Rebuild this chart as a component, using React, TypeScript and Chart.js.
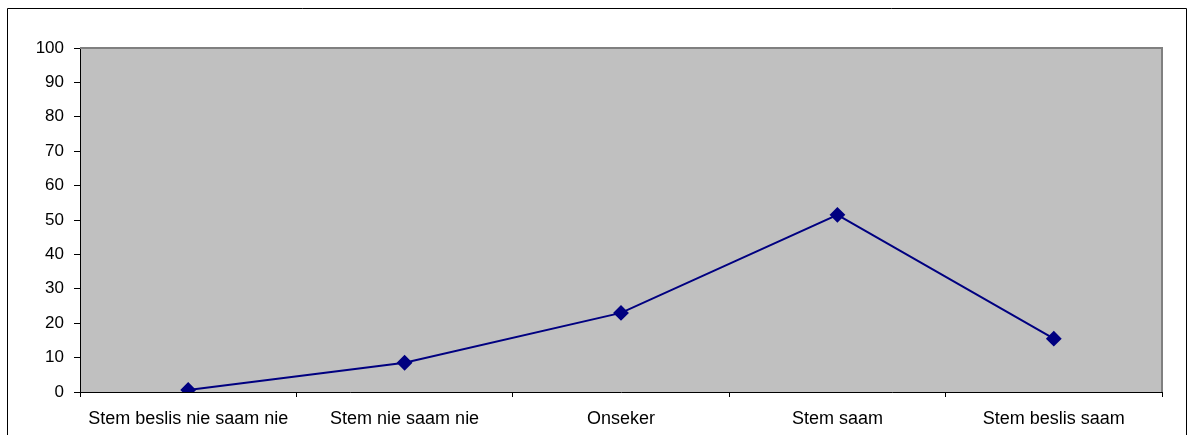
import React, { useEffect, useRef } from "react";
import { Chart, registerables } from "chart.js";

Chart.register(...registerables);

const categories = [
  "Stem beslis nie saam nie",
  "Stem nie saam nie",
  "Onseker",
  "Stem saam",
  "Stem beslis saam",
];
const values = [0.6, 8.5, 23, 51.5, 15.5];
const yMin = 0;
const yMax = 100;
const yStep = 10;

const FONT = "'Liberation Sans', Arial, sans-serif";

const framePlugin = {
  id: "framePlugin",
  beforeDraw(chart: any) {
    const { ctx, chartArea } = chart;
    ctx.save();
    ctx.fillStyle = "#ffffff";
    ctx.fillRect(0, 0, chart.width, chart.height);
    ctx.fillStyle = "#C0C0C0";
    ctx.fillRect(chartArea.left, chartArea.top, chartArea.right - chartArea.left, chartArea.bottom - chartArea.top);
    ctx.strokeStyle = "#000000";
    ctx.lineWidth = 1;
    ctx.beginPath();
    ctx.moveTo(7.5, chart.height + 5);
    ctx.lineTo(7.5, 8.5);
    ctx.lineTo(1186.5, 8.5);
    ctx.lineTo(1186.5, chart.height + 5);
    ctx.stroke();
    ctx.restore();
  },
  beforeDatasetsDraw(chart: any) {
    const { ctx, chartArea } = chart;
    ctx.save();
    ctx.strokeStyle = "#808080";
    ctx.lineWidth = 2;
    ctx.beginPath();
    ctx.moveTo(chartArea.left, Math.round(chartArea.top));
    ctx.lineTo(Math.round(chartArea.right), Math.round(chartArea.top));
    ctx.lineTo(Math.round(chartArea.right), chartArea.bottom);
    ctx.stroke();
    ctx.restore();
  },
};

export default function App() {
  const ref = useRef<HTMLCanvasElement>(null);
  useEffect(() => {
    if (!ref.current) return;
    const chart = new Chart(ref.current, {
      type: "line",
      data: {
        labels: categories,
        datasets: [
          {
            data: values,
            borderColor: "#000080",
            backgroundColor: "#000080",
            borderWidth: 2,
            pointStyle: "rectRot",
            pointRadius: 6.5,
            pointBackgroundColor: "#000080",
            pointBorderColor: "#000080",
            tension: 0,
          },
        ],
      },
      options: {
        responsive: false,
        animation: false,
        devicePixelRatio: 1,
        layout: { padding: { left: 0, top: 48, right: 28, bottom: 0 } },
        plugins: { legend: { display: false }, tooltip: { enabled: false } },
        scales: {
          x: {
            offset: true,
            afterFit: (s: any) => {
              s.height = 43;
            },
            grid: {
              offset: true,
              drawOnChartArea: false,
              drawTicks: true,
              tickLength: 5,
              color: "#000000",
            },
            border: { display: true, color: "#000000", width: 1 },
            ticks: {
              color: "#000000",
              font: { family: FONT, size: 18 },
              padding: 11,
              maxRotation: 0,
              autoSkip: false,
            },
          },
          y: {
            min: yMin,
            max: yMax,
            afterFit: (s: any) => {
              s.width = 80;
            },
            grid: {
              drawOnChartArea: false,
              drawTicks: true,
              tickLength: 6,
              color: "#000000",
            },
            border: { display: true, color: "#000000", width: 1 },
            ticks: {
              stepSize: yStep,
              color: "#000000",
              font: { family: FONT, size: 17 },
              padding: 10,
            },
          },
        },
      },
      plugins: [framePlugin],
    });
    return () => chart.destroy();
  }, []);
  return (
    <canvas
      ref={ref}
      width={1190}
      height={435}
      style={{ position: "absolute", left: 0, top: 0, width: 1190, height: 435 }}
    />
  );
}
